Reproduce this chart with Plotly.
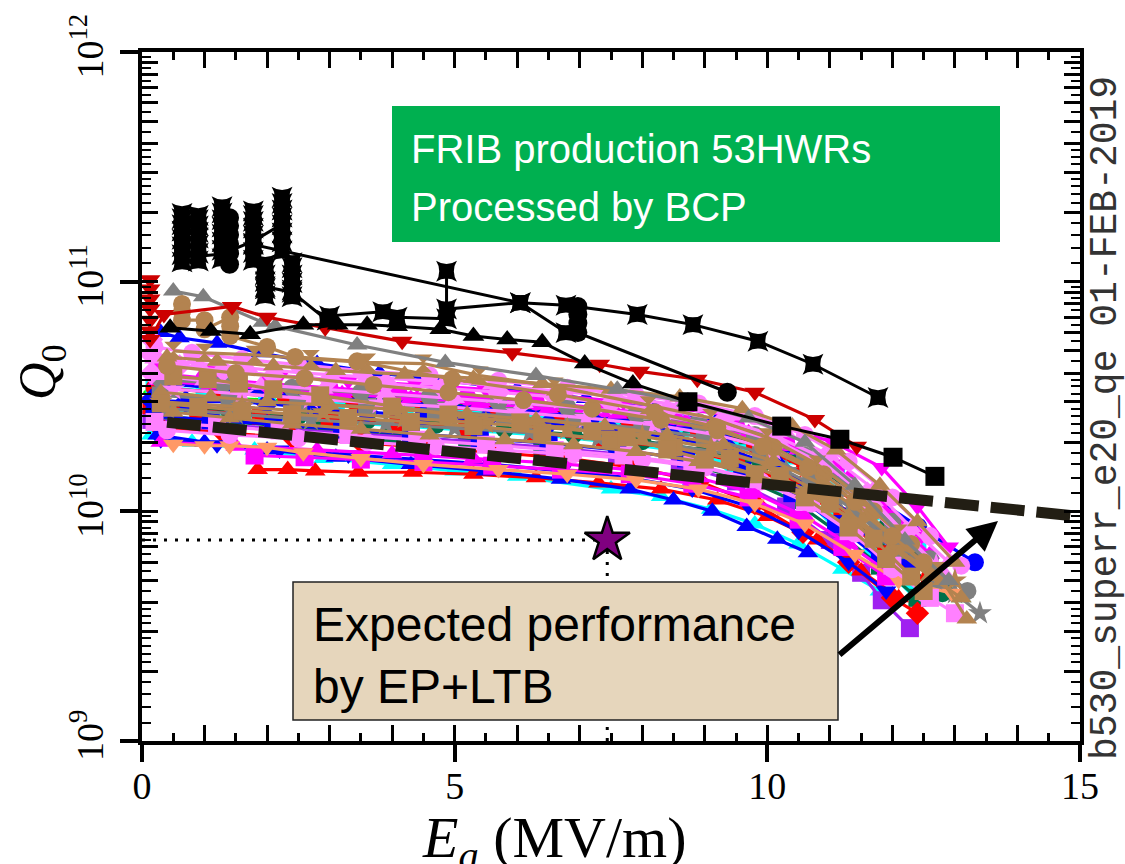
import numpy as np
import plotly.graph_objects as go

# ---------------------------------------------------------------
# Q0 vs Ea for FRIB production HWRs (BCP).  Q values below are
# stored in units of 1e10; None marks a break in a curve.
# ---------------------------------------------------------------

# --- black high-Q group ---
blk_cluster_x = [0.64, 0.64, 0.64, 0.64, 0.64, 0.64, 0.64, 0.64,
                 0.90, 0.90, 0.90, 0.90, 0.90, 0.90, 0.90, 0.90,
                 1.28, 1.28, 1.28, 1.28, 1.28, 1.28, 1.28, 1.28,
                 1.78, 1.78, 1.78, 1.78, 1.78, 1.78, 1.78, 1.78,
                 2.24, 2.24, 2.24, 2.24, 2.24, 2.24, 2.24, 2.24,
                 1.97, 1.97, 1.97, 1.97, 1.97, 1.97,
                 2.40, 2.40, 2.40, 2.40, 2.40, 2.40]
blk_cluster_q10 = [12.2, 13.1, 14.2, 15.3, 16.6, 17.7, 18.8, 19.8,
                   12.3, 13.3, 14.4, 15.5, 16.4, 17.5, 18.6, 19.4,
                   12.6, 13.7, 14.9, 16.1, 17.3, 18.6, 19.9, 21.2,
                   12.4, 13.4, 14.7, 15.9, 17.1, 18.3, 19.4, 20.3,
                   13.6, 14.9, 16.3, 17.7, 19.1, 20.5, 21.9, 23.3,
                   8.7, 9.3, 10.0, 10.7, 11.4, 11.9,
                   8.6, 9.2, 9.9, 10.7, 11.5, 12.1]
blk_link_x = [0.64, 0.90, 1.28, 1.78, 2.24]
blk_link_q10 = [12.9, 12.9, 13.2, 15.0, 17.8]
blk_top_x = [1.78, 6.05, 6.78, 7.92, 8.81, 9.85, 10.73, 11.77]
blk_top_q10 = [14.5, 8.1, 7.9, 7.2, 6.5, 5.5, 4.37, 3.13]
blk_mid_x = [1.97, 2.40, 2.96, 3.00, 3.85, 4.08, 4.87, 4.87, 4.87, 6.05, 6.78]
blk_mid_q10 = [9.5, 9.0, 6.8, 7.1, 7.4, 7.0, 6.9, 11.1, 7.6, 8.1, 6.0]
blk_circ_x = [1.40, 1.40, 1.40, 1.40, 1.40, 1.40, None, 6.97, 6.97, 6.97, 6.97, 9.36]
blk_circ_q10 = [19.0, 17.5, 16.0, 14.6, 13.3, 11.9, None, 7.8, 7.2, 6.6, 6.0, 3.3]
blk_tri_x = [0.45, 1.10, 1.73, 2.58, 3.13, 3.60, 4.08, 4.77, 5.30, 5.84, 6.40, 7.08, 7.85, 8.73]
blk_tri_q10 = [6.3, 6.1, 5.9, 6.5, 6.5, 6.5, 6.4, 6.2, 5.8, 5.6, 5.45, 4.4, 3.6, 3.0]
blk_sq_x = [8.73, 10.23, 11.16, 12.01, 12.68]
blk_sq_q10 = [3.0, 2.35, 2.06, 1.72, 1.42]

# --- upper coloured curves ---
dred_x = [0.13, 0.13, 0.13, 0.13, 0.13, 0.13, 0.13, 0.35, 1.44, 2.00, 2.93, 4.16,
          5.92, 7.32, 7.96, 8.88, 9.80, 10.76, 11.43]
dred_q10 = [10.2, 9.3, 8.4, 7.6, 6.8, 6.1, 5.6, 7.2, 7.8, 7.0, 6.3, 5.5,
            4.9, 4.37, 4.07, 3.76, 3.3, 2.51, 1.92]
gray_top_x = [0.50, 0.98, 1.93, 2.13, 3.44, 4.85, 6.30, 7.60, 8.70, 9.70, 10.6, 11.4, 12.2, 12.9]
gray_top_q10 = [9.1, 8.6, 6.65, 6.4, 5.3, 4.45, 3.9, 3.4, 3.0, 2.55, 2.0, 1.3, 0.75, 0.5]
tan_circ_x = [0.64, 0.64, 0.64, 1.00, 1.00, 1.41, 1.41, 1.41, 2.00, 2.45, 3.44, 4.96,
              6.65, 8.20, 9.20, 9.93, 10.65, 11.4, 12.0, 12.5]
tan_circ_q10 = [8.0, 7.4, 6.8, 6.8, 6.2, 7.0, 6.4, 5.8, 5.2, 4.7, 4.5, 3.76,
                3.23, 2.7, 2.32, 1.92, 1.55, 1.1, 0.78, 0.6]

# --- main band ---
green_dia_x = [0.2, 1.5, 3.0, 4.5, 6.0, 7.5, 9.0, 10.2, 11.2, 12.0]
green_dia_q10 = [3.3, 3.1, 2.95, 2.8, 2.65, 2.5, 2.25, 1.85, 1.3, 0.85]
cyan_tri_x = [0.15, 0.8, 1.8, 2.9, 4.0, 5.0, 6.0, 7.5, 8.3, 9.1, 9.8, 10.5, 11.2, 11.8]
cyan_tri_q10 = [2.15, 2.0, 1.85, 1.7, 1.6, 1.5, 1.42, 1.25, 1.16, 1.02, 0.88, 0.72, 0.56, 0.45]
cyan_sq_x = [0.2, 1.0, 2.0, 3.1, 4.2, 5.3, 6.4, 7.5, 8.6, 9.6, 10.4, 11.1, 11.8, 12.4]
cyan_sq_q10 = [3.5, 3.35, 3.2, 3.05, 2.9, 2.75, 2.6, 2.45, 2.25, 2.0, 1.75, 1.4, 1.0, 0.7]
cyan_dia_x = [0.15, 1.0, 2.0, 3.1, 4.2, 5.3, 6.4, 7.5, 8.5, 9.4, 10.2, 11.0, 11.7, 12.3]
cyan_dia_q10 = [2.75, 2.65, 2.55, 2.45, 2.35, 2.25, 2.15, 2.0, 1.85, 1.62, 1.32, 0.98, 0.68, 0.48]
dgreen_tri_x = [0.4, 1.3, 2.3, 3.4, 4.5, 5.6, 6.7, 7.8, 8.8, 9.7, 10.5, 11.2, 11.9, 12.5, 13.1]
dgreen_tri_q10 = [3.6, 3.45, 3.3, 3.15, 3.0, 2.85, 2.7, 2.5, 2.3, 2.05, 1.7, 1.3, 0.9, 0.6, 0.42]
dgreen_sq_x = [0.3, 1.5, 2.8, 4.0, 5.2, 6.4, 7.6, 8.7, 9.6, 10.4, 11.1, 11.8, 12.4]
dgreen_sq_q10 = [2.6, 2.45, 2.3, 2.15, 2.0, 1.9, 1.75, 1.6, 1.4, 1.12, 0.82, 0.58, 0.42]
dgreen_circ_x = [0.35, 1.4, 2.5, 3.6, 4.7, 5.8, 6.9, 8.0, 9.0, 9.9, 10.7, 11.4, 12.1, 12.8]
dgreen_circ_q10 = [2.85, 2.72, 2.6, 2.48, 2.38, 2.28, 2.16, 2.02, 1.85, 1.6, 1.25, 0.92, 0.62, 0.44]
blue_up_x = [0.3, 0.6, 1.2, 1.9, 2.8, 3.8, 4.9, 6.0, 7.1, 8.2, 9.2, 10.1, 10.9, 11.6, 12.2, 12.7]
blue_up_q10 = [6.0, 5.7, 5.4, 4.9, 4.4, 4.0, 3.7, 3.4, 3.1, 2.8, 2.5, 2.1, 1.6, 1.1, 0.75, 0.55]
blue_dia_x = [0.15, 0.7, 1.45, 2.0, 2.75, 3.6, 4.5, 5.5, 6.5, 7.5, 8.5, 9.4, 10.2, 11.0, 11.7, 12.3]
blue_dia_q10 = [3.05, 3.0, 3.0, 2.95, 2.8, 2.7, 2.6, 2.5, 2.4, 2.25, 2.1, 1.85, 1.55, 1.15, 0.8, 0.6]
blue_down_x = [0.3, 1.2, 2.2, 3.3, 4.5, 5.6, 6.7, 7.8, 8.8, 9.7, 10.5, 11.3, 11.9]
blue_down_q10 = [2.05, 1.95, 1.85, 1.76, 1.68, 1.6, 1.5, 1.4, 1.25, 1.05, 0.82, 0.6, 0.45]
blue_low_x = [0.25, 1.0, 2.0, 3.1, 4.3, 5.5, 6.7, 7.8, 8.5, 9.12, 9.67, 10.16, 10.65]
blue_low_q10 = [2.15, 2.0, 1.85, 1.72, 1.6, 1.5, 1.38, 1.25, 1.12, 1.0, 0.86, 0.755, 0.66]
blue_circ_x = [0.4, 1.4, 2.5, 3.6, 4.8, 6.0, 7.2, 8.3, 9.3, 10.2, 11.0, 11.7, 12.41, 13.32]
blue_circ_q10 = [3.6, 3.4, 3.2, 3.05, 2.9, 2.75, 2.6, 2.4, 2.2, 1.9, 1.55, 1.15, 0.86, 0.6]
blue_sq_x = [0.2, 1.1, 2.1, 3.2, 4.3, 5.4, 6.5, 7.6, 8.7, 9.6, 10.4, 11.1, 11.8]
blue_sq_q10 = [2.6, 2.5, 2.38, 2.28, 2.18, 2.08, 1.98, 1.85, 1.7, 1.5, 1.2, 0.88, 0.62]
red_up_x = [1.85, 2.33, 2.77, 3.46, 4.33, 5.3, 6.3, 7.3, 8.3, 9.2, 10.0, 10.8, 11.5, 12.1]
red_up_q10 = [1.52, 1.52, 1.5, 1.48, 1.48, 1.45, 1.4, 1.33, 1.25, 1.12, 0.95, 0.75, 0.55, 0.42]
red_dia_x = [0.3, 1.3, 2.4, 3.5, 4.6, 5.7, 6.8, 7.9, 8.9, 9.8, 10.57, 11.3, 12.0, 12.4]
red_dia_q10 = [2.3, 2.2, 2.1, 2.0, 1.9, 1.8, 1.7, 1.55, 1.35, 1.08, 0.81, 0.6, 0.42, 0.36]
red_sq_x = [0.15, 0.9, 1.9, 3.0, 4.1, 5.2, 6.3, 7.4, 8.5, 9.5, 10.4, 11.2, 11.9, 12.6]
red_sq_q10 = [2.9, 2.75, 2.6, 2.5, 2.4, 2.3, 2.2, 2.05, 1.9, 1.65, 1.3, 0.95, 0.65, 0.48]
red_circ_x = [0.2, 1.2, 2.3, 3.4, 4.5, 5.6, 6.7, 7.8, 8.9, 9.8, 10.6, 11.4, 12.1, 12.6]
red_circ_q10 = [3.45, 3.3, 3.15, 3.0, 2.88, 2.75, 2.6, 2.45, 2.25, 1.95, 1.55, 1.1, 0.72, 0.52]
mag_down_x = [0.3, 1.2, 2.2, 3.3, 4.4, 5.5, 6.6, 7.7, 8.6, 9.5, 10.25, 11.05, 11.83, 12.4, 12.9]
mag_down_q10 = [4.4, 4.1, 3.9, 3.7, 3.55, 3.4, 3.2, 3.0, 2.8, 2.6, 2.35, 2.0, 1.55, 1.05, 0.7]
mag_sq_x = [1.8, 2.6, 3.5, 4.5, 5.6, 6.7, 7.8, 8.8, 9.7, 10.5, 11.2, 11.9]
mag_sq_q10 = [1.75, 1.72, 1.68, 1.64, 1.58, 1.52, 1.45, 1.32, 1.15, 0.92, 0.7, 0.52]
mag_circ_x = [0.2, 1.0, 2.0, 3.0, 4.1, 5.2, 6.3, 7.4, 8.5, 9.5, 10.3, 11.1, 11.8, 12.4]
mag_circ_q10 = [4.0, 3.8, 3.6, 3.45, 3.3, 3.15, 3.0, 2.8, 2.6, 2.35, 2.0, 1.55, 1.1, 0.78]
mag_up_x = [0.3, 1.5, 2.8, 4.0, 5.3, 6.6, 7.8, 8.9, 9.8, 10.6, 11.3, 11.9]
mag_up_q10 = [2.0, 1.92, 1.85, 1.78, 1.7, 1.62, 1.52, 1.4, 1.2, 0.95, 0.72, 0.55]
mag_up2_x = [0.25, 1.1, 2.1, 3.2, 4.3, 5.4, 6.5, 7.6, 8.7, 9.7, 10.5, 11.3, 12.0, 12.6]
mag_up2_q10 = [3.7, 3.55, 3.4, 3.25, 3.1, 2.95, 2.8, 2.65, 2.45, 2.2, 1.85, 1.4, 0.95, 0.65]
salmon_x = [0.5, 1.0, 1.4, 2.0, 2.58, 3.5, 4.5, 5.7, 6.8, 7.9, 8.9, 9.8, 10.6, 11.4, 12.1, 12.95]
salmon_q10 = [1.96, 1.93, 1.93, 1.9, 1.8, 1.7, 1.6, 1.52, 1.45, 1.37, 1.25, 1.08, 0.88, 0.65, 0.5, 0.44]
purple_x = [0.15, 1.0, 2.1, 3.2, 4.3, 5.4, 6.5, 7.6, 8.6, 9.5, 10.3, 11.0, 11.5, 11.83, 12.28]
purple_q10 = [2.5, 2.4, 2.3, 2.2, 2.1, 2.0, 1.9, 1.78, 1.6, 1.35, 1.05, 0.75, 0.54, 0.41, 0.31]
gray_sq_x = [0.3, 1.4, 2.5, 3.6, 4.7, 5.8, 6.9, 8.0, 9.0, 9.9, 10.7, 11.4, 12.1, 12.7]
gray_sq_q10 = [3.2, 3.05, 2.95, 2.85, 2.75, 2.6, 2.45, 2.3, 2.1, 1.8, 1.4, 1.0, 0.68, 0.5]
gray_star_x = [0.4, 1.5, 2.7, 3.9, 5.0, 6.2, 7.3, 8.4, 9.4, 10.3, 11.1, 11.9, 12.6, 13.0, 13.4]
gray_star_q10 = [2.8, 2.65, 2.5, 2.4, 2.3, 2.2, 2.08, 1.95, 1.78, 1.5, 1.15, 0.8, 0.55, 0.44, 0.36]
gray_circ_x = [0.3, 1.3, 2.4, 3.5, 4.6, 5.7, 6.8, 7.9, 8.9, 9.8, 10.6, 11.3, 12.0, 12.6, 13.2]
gray_circ_q10 = [3.75, 3.6, 3.45, 3.3, 3.15, 3.0, 2.85, 2.65, 2.45, 2.15, 1.75, 1.3, 0.9, 0.62, 0.45]
pink_dia_x = [0.15, 0.15, 0.15, 0.6, 1.3, 2.1, 3.0, 3.9, 4.8, 5.7, 6.6, 7.5, 8.4, 9.3, 10.1,
              10.9, 11.6, 12.2, 12.7]
pink_dia_q10 = [5.6, 4.8, 4.0, 4.3, 4.1, 3.9, 3.75, 3.6, 3.45, 3.3, 3.15, 2.95, 2.75, 2.5, 2.15,
                1.7, 1.2, 0.8, 0.55]
pink_up_x = [0.3, 1.0, 1.9, 2.9, 3.9, 5.0, 6.1, 7.2, 8.3, 9.3, 10.2, 11.0, 11.7, 12.3, 12.8]
pink_up_q10 = [3.9, 3.7, 3.55, 3.4, 3.25, 3.1, 2.95, 2.8, 2.6, 2.35, 2.0, 1.55, 1.1, 0.75, 0.55]
pink_up2_x = [0.2, 0.9, 1.7, 2.6, 3.6, 4.6, 5.6, 6.6, 7.6, 8.6, 9.5, 10.3, 11.0, 11.7, 12.3, 12.9]
pink_up2_q10 = [4.6, 4.4, 4.2, 4.0, 3.85, 3.7, 3.55, 3.35, 3.15, 2.9, 2.6, 2.2, 1.75, 1.25, 0.85, 0.6]
pink_star_x = [0.5, 1.6, 2.7, 3.8, 4.9, 6.0, 7.1, 8.2, 9.2, 10.1, 10.9, 11.6, 12.2, 12.7]
pink_star_q10 = [3.4, 3.25, 3.1, 2.95, 2.85, 2.7, 2.55, 2.38, 2.15, 1.85, 1.45, 1.05, 0.75, 0.58]
pink_sq_x = [0.2, 1.2, 2.2, 3.3, 4.4, 5.5, 6.6, 7.7, 8.8, 9.8, 10.6, 11.3, 12.0, 12.6, 13.0]
pink_sq_q10 = [2.45, 2.35, 2.25, 2.15, 2.05, 1.95, 1.85, 1.75, 1.6, 1.38, 1.1, 0.82, 0.58, 0.42, 0.36]
pink_circ_x = [0.4, 1.4, 2.5, 3.6, 4.7, 5.8, 6.9, 8.0, 9.0, 9.9, 10.7, 11.4, 12.0, 12.5]
pink_circ_q10 = [2.25, 2.15, 2.08, 2.0, 1.92, 1.85, 1.77, 1.68, 1.55, 1.35, 1.08, 0.8, 0.56, 0.44]
pink_circ2_x = [0.2, 0.8, 1.6, 2.5, 3.5, 4.6, 5.7, 6.8, 7.9, 8.9, 9.8, 10.6, 11.3, 12.0, 12.6, 13.1]
pink_circ2_q10 = [5.2, 4.9, 4.6, 4.35, 4.1, 3.9, 3.7, 3.45, 3.2, 2.95, 2.6, 2.15, 1.65, 1.15, 0.78, 0.58]
tan_sq_x = [0.5, 1.05, 1.55, 2.1, 2.85, 4.0, 4.9, 6.05, 7.2, 7.75, 8.4, 9.0, 9.8, 10.6, 11.3, 11.9, 12.5]
tan_sq_q10 = [3.87, 3.76, 3.6, 3.4, 3.2, 2.86, 2.64, 2.44, 2.23, 2.1, 1.86, 1.68, 1.45, 1.15, 0.85, 0.62, 0.45]
tan_sq2_x = [0.3, 0.9, 1.6, 2.4, 3.3, 4.3, 5.3, 6.4, 7.5, 8.5, 9.4, 10.2, 11.0, 11.7, 12.3]
tan_sq2_q10 = [2.95, 2.85, 2.75, 2.65, 2.55, 2.45, 2.35, 2.2, 2.05, 1.9, 1.7, 1.42, 1.08, 0.76, 0.52]
tan_hg_x = [0.5, 1.0, 1.8, 2.7, 3.6, 4.5, 5.4, 6.6, 8.1, 9.1, 10.0, 10.8, 11.5, 12.1, 12.7]
tan_hg_q10 = [5.0, 4.9, 4.8, 4.6, 4.45, 4.4, 3.9, 3.5, 2.9, 2.55, 2.1, 1.6, 1.15, 0.8, 0.55]
tan_up_x = [0.3, 1.1, 2.0, 3.0, 4.1, 5.2, 6.3, 7.4, 8.4, 9.3, 10.1, 10.9, 11.6, 12.2, 12.8, 13.19]
tan_up_q10 = [3.3, 3.15, 3.0, 2.9, 2.78, 2.65, 2.5, 2.35, 2.15, 1.95, 1.65, 1.3, 0.95, 0.7, 0.5, 0.34]
tan_up3_x = [0.4, 1.2, 2.1, 3.1, 4.2, 5.3, 6.4, 7.5, 8.6, 9.6, 10.4, 11.1, 11.8, 12.4, 13.0]
tan_up3_q10 = [4.7, 4.5, 4.3, 4.1, 3.95, 3.8, 3.6, 3.4, 3.15, 2.8, 2.35, 1.85, 1.3, 0.9, 0.6]
tan_low_x = [0.5, 1.4, 2.4, 3.5, 4.6, 5.8, 6.9, 7.9, 8.9, 9.8, 10.6, 11.3, 12.0, 12.6, 13.1]
tan_low_q10 = [2.7, 2.55, 2.4, 2.28, 2.15, 2.05, 1.95, 1.82, 1.65, 1.45, 1.2, 0.95, 0.7, 0.52, 0.42]
tan_mid_x = [0.4, 1.5, 2.6, 3.7, 4.9, 6.1, 7.2, 8.3, 9.2, 10.1, 10.9, 11.7, 12.3]
tan_mid_q10 = [4.3, 4.0, 3.8, 3.55, 3.3, 3.05, 2.8, 2.5, 2.25, 1.9, 1.45, 1.0, 0.72]
tan_star_x = [0.3, 1.6, 2.9, 4.2, 5.5, 6.8, 8.0, 9.1, 10.0, 10.8, 11.5, 12.1, 12.6, 13.0]
tan_star_q10 = [3.0, 2.85, 2.7, 2.55, 2.42, 2.28, 2.12, 1.9, 1.6, 1.22, 0.9, 0.68, 0.55, 0.5]

# --- expected EP+LTB performance ---
expect_x = [0.4, 15.0]
expect_q10 = [2.44, 0.95]
goal_x = [7.44]
goal_q10 = [0.75]

# ---------------------------------------------------------------
TAN, PINK, MAG = "#B38350", "#FF80FF", "#FF00FF"
BLUE, CYAN, DGREEN = "#0000FF", "#00FFFF", "#00704A"
RED, GRAY, PURPLE, SALMON = "#FF0000", "#808080", "#A020F0", "#FF9966"

band = [
    (green_dia_x, green_dia_q10, "#00FF00", "diamond"),
    (cyan_tri_x, cyan_tri_q10, CYAN, "triangle-up"),
    (cyan_sq_x, cyan_sq_q10, CYAN, "square"),
    (cyan_dia_x, cyan_dia_q10, CYAN, "diamond"),
    (dgreen_tri_x, dgreen_tri_q10, DGREEN, "triangle-up"),
    (dgreen_sq_x, dgreen_sq_q10, DGREEN, "square"),
    (dgreen_circ_x, dgreen_circ_q10, DGREEN, "circle"),
    (purple_x, purple_q10, PURPLE, "square"),
    (red_sq_x, red_sq_q10, RED, "square"),
    (red_circ_x, red_circ_q10, RED, "circle"),
    (red_dia_x, red_dia_q10, RED, "diamond"),
    (red_up_x, red_up_q10, RED, "triangle-up"),
    (blue_up_x, blue_up_q10, BLUE, "triangle-up"),
    (blue_sq_x, blue_sq_q10, BLUE, "square"),
    (blue_dia_x, blue_dia_q10, BLUE, "diamond"),
    (blue_down_x, blue_down_q10, BLUE, "triangle-down"),
    (blue_low_x, blue_low_q10, BLUE, "triangle-up"),
    (blue_circ_x, blue_circ_q10, BLUE, "circle"),
    (mag_up_x, mag_up_q10, MAG, "triangle-up"),
    (mag_up2_x, mag_up2_q10, MAG, "triangle-up"),
    (mag_sq_x, mag_sq_q10, MAG, "square"),
    (mag_circ_x, mag_circ_q10, MAG, "circle"),
    (mag_down_x, mag_down_q10, MAG, "triangle-down"),
    (gray_sq_x, gray_sq_q10, GRAY, "square"),
    (gray_circ_x, gray_circ_q10, GRAY, "circle"),
    (gray_star_x, gray_star_q10, GRAY, "star"),
    (salmon_x, salmon_q10, SALMON, "triangle-down"),
    (pink_sq_x, pink_sq_q10, PINK, "square"),
    (pink_circ_x, pink_circ_q10, PINK, "circle"),
    (pink_star_x, pink_star_q10, PINK, "star"),
    (pink_up_x, pink_up_q10, PINK, "triangle-up"),
    (pink_up2_x, pink_up2_q10, PINK, "triangle-up"),
    (pink_circ2_x, pink_circ2_q10, PINK, "circle"),
    (pink_dia_x, pink_dia_q10, PINK, "diamond"),
    (tan_low_x, tan_low_q10, TAN, "triangle-up"),
    (tan_star_x, tan_star_q10, TAN, "star"),
    (tan_up_x, tan_up_q10, TAN, "triangle-up"),
    (tan_sq2_x, tan_sq2_q10, TAN, "square"),
    (tan_sq_x, tan_sq_q10, TAN, "square"),
    (tan_mid_x, tan_mid_q10, TAN, "circle"),
    (tan_up3_x, tan_up3_q10, TAN, "triangle-up"),
    (tan_hg_x, tan_hg_q10, TAN, "hourglass"),
    (gray_top_x, gray_top_q10, GRAY, "triangle-up"),
    (tan_circ_x, tan_circ_q10, TAN, "circle"),
    (dred_x, dred_q10, "#CC0000", "triangle-down"),
]


def q(vals):
    return [None if v is None else v * 1e10 for v in vals]


fig = go.Figure()
for xs, qs, col, sym in band:
    fig.add_trace(go.Scatter(
        x=xs, y=q(qs), mode="lines+markers",
        line=dict(color=col, width=3.2),
        marker=dict(color=col, symbol=sym, size=18, line=dict(width=0)),
        showlegend=False, hoverinfo="skip"))

black_lines = [
    (blk_link_x, blk_link_q10, "lines", "star-square"),
    (blk_top_x, blk_top_q10, "lines+markers", "star-square"),
    (blk_mid_x, blk_mid_q10, "lines+markers", "star-square"),
    (blk_circ_x, blk_circ_q10, "lines+markers", "circle"),
    (blk_tri_x, blk_tri_q10, "lines+markers", "triangle-up"),
    (blk_sq_x, blk_sq_q10, "lines+markers", "square"),
    (blk_cluster_x, blk_cluster_q10, "markers", "star-square"),
]
for xs, qs, mode, sym in black_lines:
    fig.add_trace(go.Scatter(
        x=xs, y=q(qs), mode=mode,
        line=dict(color="black", width=3),
        marker=dict(color="black", symbol=sym, size=19, line=dict(width=0)),
        showlegend=False, hoverinfo="skip"))

# expected performance trend (thick dashed)
fig.add_trace(go.Scatter(
    x=expect_x, y=q(expect_q10), mode="lines",
    line=dict(color="#221E14", width=11, dash="34px,12px"),
    showlegend=False, hoverinfo="skip"))

# dotted guides to the goal point, then the goal star
gx, gq = goal_x[0], q(goal_q10)[0]
fig.add_trace(go.Scatter(x=[0, gx], y=[gq, gq], mode="lines",
                         line=dict(color="black", width=3, dash="3px,8px"),
                         showlegend=False, hoverinfo="skip"))
fig.add_trace(go.Scatter(x=[gx, gx], y=[gq, 1e9], mode="lines",
                         line=dict(color="black", width=3, dash="3px,8px"),
                         showlegend=False, hoverinfo="skip"))
fig.add_trace(go.Scatter(x=goal_x, y=q(goal_q10), mode="markers",
                         marker=dict(symbol="star", size=34, color="#800080",
                                     line=dict(color="black", width=2.5)),
                         showlegend=False, hoverinfo="skip"))

# empty trace so the overlay (tick) axes get their own subplot
fig.add_trace(go.Scatter(x=[], y=[], xaxis="x2", yaxis="y2", showlegend=False))

# ---------------------------------------------------------------
W, H = 1125, 864
L, R, T, B = 142, 1080, 52, 741


def fx(px):
    return (px - L) / (R - L)


def fy(py):
    return (B - py) / (B - T)


serif = "Liberation Serif"
decades = [1e9, 1e10, 1e11, 1e12]
y_major_in = [k * 10.0 ** d for d in range(9, 12) for k in range(1, 10)] + [1e12]
y_minor_in = [m * 10.0 ** d for d in range(9, 12)
              for m in (1.2, 1.4, 1.6, 1.8, 2.2, 2.4, 2.6, 2.8, 3.25, 3.5, 3.75,
                        4.5, 5.5, 6.5, 7.5, 8.5, 9.5)]

fig.update_layout(
    width=W, height=H,
    margin=dict(l=L, r=W - R, t=T, b=H - B, pad=0),
    paper_bgcolor="white", plot_bgcolor="white",
    xaxis=dict(range=[0, 15], showgrid=False, zeroline=False,
               showline=True, linecolor="black", linewidth=3.5,
               ticks="outside", tickvals=[0, 5, 10, 15], ticklen=17,
               tickwidth=3.5, tickcolor="black",
               tickfont=dict(family=serif, size=38, color="black"),
               ticklabelstandoff=-8),
    yaxis=dict(type="log", range=[9, 12], showgrid=False, zeroline=False,
               showline=True, linecolor="black", linewidth=3.5,
               ticks="outside", tickvals=decades,
               ticktext=["10<sup>9</sup>", "10<sup>10</sup>",
                         "10<sup>11</sup>", "10<sup>12</sup>"],
               tickangle=-90, ticklen=18, tickwidth=3.5, tickcolor="black",
               tickfont=dict(family=serif, size=38, color="black"),
               ticklabelstandoff=2),
    xaxis2=dict(range=[0, 15], overlaying="x", anchor="y2", side="bottom",
                showgrid=False, zeroline=False, showline=True,
                linecolor="black", linewidth=3.5, mirror="ticks",
                ticks="inside", tickmode="linear", tick0=0, dtick=1,
                ticklen=16, tickwidth=3, tickcolor="black",
                showticklabels=False,
                minor=dict(ticks="inside", dtick=0.5, tick0=0, ticklen=8,
                           tickwidth=2.5, tickcolor="black")),
    yaxis2=dict(type="log", range=[9, 12], overlaying="y", anchor="x2",
                side="left", showgrid=False, zeroline=False, showline=True,
                linecolor="black", linewidth=3.5, mirror="ticks",
                ticks="inside", tickvals=y_major_in, ticklen=16, tickwidth=3,
                tickcolor="black", showticklabels=False,
                minor=dict(ticks="inside", tickmode="array", tickvals=y_minor_in,
                           ticklen=9, tickwidth=2.2, tickcolor="black")),
    shapes=[
        dict(type="rect", xref="paper", yref="paper", layer="above",
             x0=fx(392), x1=fx(1000), y0=fy(242), y1=fy(106),
             fillcolor="#00B050", line=dict(width=0)),
        dict(type="rect", xref="paper", yref="paper", layer="above",
             x0=fx(293), x1=fx(838), y0=fy(720), y1=fy(582),
             fillcolor="#E6D6BC", line=dict(color="#222222", width=1.5)),
    ],
    annotations=[
        dict(xref="paper", yref="paper", x=fx(409), y=fy(149),
             xanchor="left", yanchor="middle", align="left", showarrow=False,
             text="FRIB production 53HWRs",
             font=dict(family="Liberation Sans", size=40, color="white")),
        dict(xref="paper", yref="paper", x=fx(409), y=fy(207),
             xanchor="left", yanchor="middle", align="left", showarrow=False,
             text="Processed by BCP",
             font=dict(family="Liberation Sans", size=40, color="white")),
        dict(xref="paper", yref="paper", x=fx(311), y=fy(655),
             xanchor="left", yanchor="middle", align="left", showarrow=False,
             text="Expected performance<br>by EP+LTB",
             font=dict(family="Liberation Sans", size=48, color="black")),
        dict(xref="paper", yref="paper", x=fx(998), y=fy(521),
             ax=-160, ay=135, showarrow=True, arrowhead=2, arrowsize=1,
             arrowwidth=6, arrowcolor="black", text=""),
        dict(xref="paper", yref="paper", x=fx(42), y=fy(372),
             xanchor="center", yanchor="middle",
             textangle=-90, showarrow=False,
             text="<i>Q</i><sub>0</sub>",
             font=dict(family=serif, size=52, color="black")),
        dict(xref="paper", yref="paper", x=fx(554), y=fy(803),
             xanchor="center", yanchor="top",
             showarrow=False,
             text="<i>E</i><sub><i>a</i></sub> (MV/m)",
             font=dict(family=serif, size=58, color="black")),
        dict(xref="paper", yref="paper", x=fx(1105), y=fy(418),
             xanchor="center", yanchor="middle",
             textangle=-90, showarrow=False,
             text="b530_superr_e20_qe 01-FEB-2019",
             font=dict(family="Liberation Mono", size=38, color="#333333")),
    ],
)

fig.write_html("out.html")
